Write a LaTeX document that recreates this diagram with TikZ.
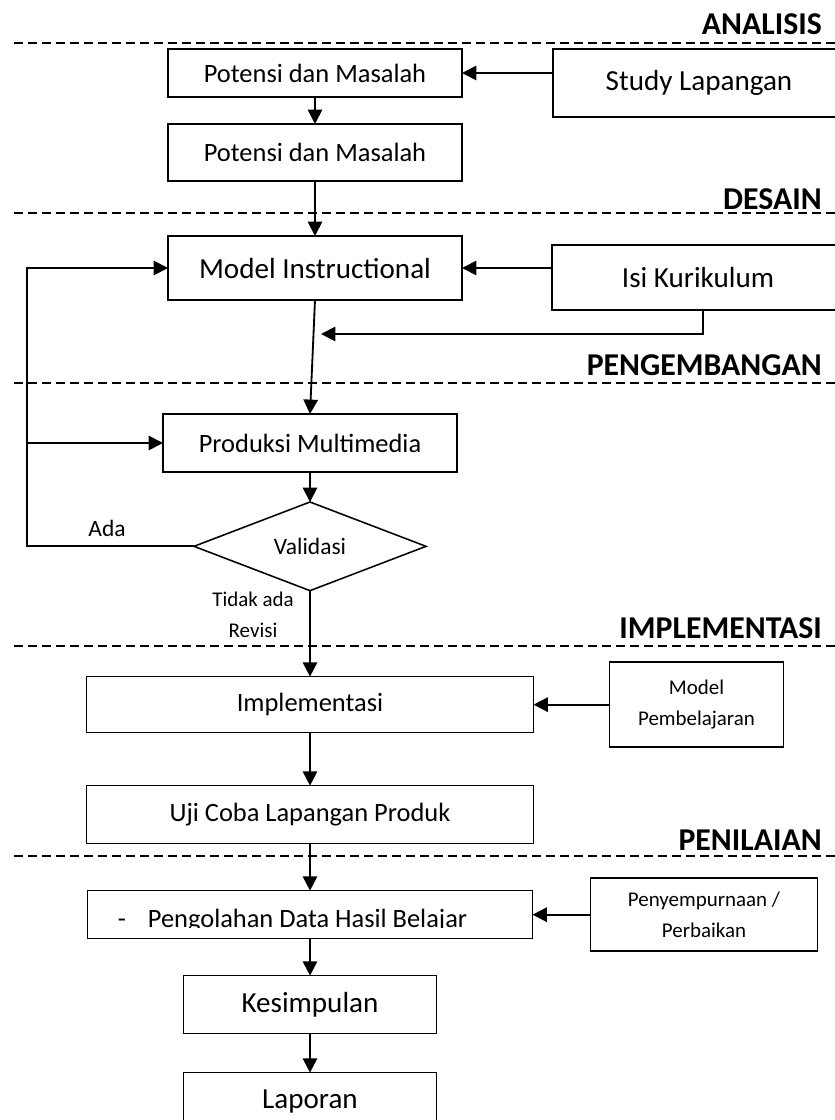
\documentclass[tikz,border=0pt]{standalone}
\usepackage{fontspec}
\setmainfont{Carlito}
\usepackage{tikz}
\usetikzlibrary{positioning, arrows.meta, shapes.geometric, calc}

\newcommand{\fsSmall}{\fontsize{14.9pt}{21.6pt}\selectfont}
\newcommand{\fsMid}{\fontsize{16.7pt}{20pt}\selectfont}
\newcommand{\fsBox}{\fontsize{18.8pt}{22.5pt}\selectfont}
\newcommand{\fsBig}{\fontsize{20.7pt}{25pt}\selectfont}
\newcommand{\fsPhase}{\fontsize{22.6pt}{27pt}\selectfont}

\begin{document}
\begin{tikzpicture}[
    box/.style={rectangle, draw=black, line width=1.1pt, outer sep=0pt, minimum width=7.35cm, align=center, font=\fsBox},
    bigbox/.style={box, font=\fsBig},
    sidebox/.style={box, font=\fsSmall},
    decision/.style={diamond, draw=black, line width=1.1pt, outer sep=0pt, inner sep=0pt, minimum width=5.8cm, minimum height=2.125cm, font=\fsMid},
    flow/.style={-{Triangle[length=0.36cm, width=0.36cm]}, line width=1.3pt},
    phase/.style={dash pattern=on 0.225cm off 0.125cm, line width=0.8pt},
    phaselabel/.style={anchor=base east, font=\fsPhase\bfseries, inner sep=0pt},
    note/.style={inner sep=0pt, font=\fsMid}
]
\useasboundingbox (0,0) rectangle (20.875,-28);

% Phase lines
\draw[phase] (0.35,-1.075) -- (20.875,-1.075);
\node[phaselabel] (analisis) at (20.55,-0.875) {ANALISIS};
\draw[phase] (0.35,-5.325) -- (20.875,-5.325);
\node[phaselabel] (desain) at (20.55,-5.225) {DESAIN};
\draw[phase] (0.35,-9.575) -- (20.875,-9.575);
\node[phaselabel] (pengembangan) at (20.55,-9.375) {PENGEMBANGAN};
\draw[phase] (0.35,-16.15) -- (20.875,-16.15);
\node[phaselabel] (implabel) at (20.55,-15.95) {IMPLEMENTASI};
\draw[phase] (0.35,-21.4) -- (20.875,-21.4);
\node[phaselabel] (penilaian) at (20.55,-21.25) {PENILAIAN};

% Main flow
\node[box, minimum height=1.2cm] (potensi) at (7.875,-1.825) {Potensi dan Masalah};
\node[box, minimum height=1.425cm, below=0.675cm of potensi] (masalah) {Potensi dan Masalah};
\node[bigbox, minimum height=1.6cm, below=1.375cm of masalah] (model) {Model Instructional};
\node[box, minimum height=1.45cm, below=2.85cm of model, xshift=-0.125cm] (produksi) {Produksi Multimedia};
\node[decision, below=0.75cm of produksi] (validasi) {Validasi};
\node[box, minimum width=11.175cm, minimum height=1.4cm, below=2.15cm of validasi] (implementasi) {Implementasi};
\node[box, minimum width=11.175cm, minimum height=1.45cm, below=1.325cm of implementasi] (ujicoba) {Uji Coba Lapangan Produk};
\node[box, minimum width=11.125cm, minimum height=1.2cm, below=1.175cm of ujicoba] (pengolahan) {};
\node[bigbox, minimum width=6.325cm, minimum height=1.45cm, below=0.925cm of pengolahan] (kesimpulan) {Kesimpulan};
\node[bigbox, minimum width=6.325cm, minimum height=1.45cm, below=0.975cm of kesimpulan] (laporan) {Laporan};

% Side inputs
\node[bigbox, minimum width=7.3cm, minimum height=1.7cm, right=2.275cm of potensi.north east, anchor=north west] (study) {Study Lapangan};
\node[bigbox, minimum width=7.3cm, minimum height=1.625cm, below right=0.225cm and 2.25cm of model.north east, anchor=north west] (isi) {Isi Kurikulum};
\node[sidebox, minimum width=4.35cm, minimum height=2.125cm, right=1.9cm of implementasi] (pembelajaran) {Model\\Pembelajaran};
\node[sidebox, minimum width=5.675cm, minimum height=1.825cm, right=1.45cm of pengolahan] (perbaikan) {Penyempurnaan /\\Perbaikan};

% Text cut at the box bottom
\begin{scope}
\clip (pengolahan.north west) rectangle ($(pengolahan.south east)+(0,0.275)$);
\node[note, font=\fsBox, anchor=base west] (pengolahantext) at ($(pengolahan.south west)+(0.75,0.275)$) {-\hspace{0.55cm}Pengolahan Data Hasil Belajar};
\end{scope}

% Connectors
\draw[flow] (study.west |- potensi.east) -- (potensi.east);
\draw[flow] (potensi.south) -- (masalah.north);
\draw[flow] (masalah.south) -- (model.north);
\draw[flow] (isi.west |- model.east) -- (model.east);
\coordinate (merge) at ($(model.south)+(0.15,-0.85)$);
\draw[flow] ([xshift=0.125cm]isi.south) |- (merge);
\draw[flow] (model.south) -- (produksi.north);
\draw[flow] (produksi.south) -- (validasi.north);

% Revision loop
\coordinate (loop) at (0.675,0);
\draw[flow] (validasi.west) -- (validasi.west -| loop) |- (model.west);
\draw[flow] (loop |- produksi.west) -- (produksi.west);
\node[note, anchor=base] (ada) at (2.675,-13.41) {Ada};

\draw[flow] (validasi.south) -- (implementasi.north);
\node[note, font=\fsSmall, align=center, anchor=north] (revisi) at (6.325,-14.8) {Tidak ada\\Revisi};
\draw[flow] (pembelajaran.west) -- (implementasi.east);
\draw[flow] (implementasi.south) -- (ujicoba.north);
\draw[flow] (ujicoba.south) -- (pengolahan.north);
\draw[flow] (perbaikan.west) -- (pengolahan.east);
\draw[flow] (pengolahan.south) -- (kesimpulan.north);
\draw[flow] (kesimpulan.south) -- (laporan.north);

\end{tikzpicture}
\end{document}
